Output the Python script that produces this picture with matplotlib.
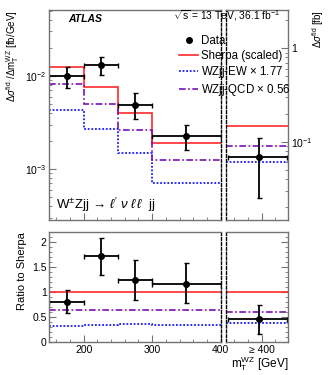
import matplotlib
matplotlib.use("Agg")
import matplotlib.pyplot as plt
from matplotlib.ticker import LogLocator, MultipleLocator, FixedLocator, NullFormatter, FixedFormatter

plt.rcParams['font.family'] = ['Liberation Sans', 'DejaVu Sans']
plt.rcParams['mathtext.fontset'] = 'custom'
plt.rcParams['mathtext.rm'] = 'Liberation Sans'
plt.rcParams['mathtext.it'] = 'Liberation Sans:italic'

# binning
edges = [150, 200, 250, 300, 400]
centers = [175, 225, 275, 350]
half_width = [25, 25, 25, 50]

# differential cross section [fb/GeV]
data = [1.0e-2, 1.31e-2, 4.9e-3, 2.24e-3]
data_up = [0.25e-2, 0.30e-2, 1.6e-3, 0.70e-3]
data_dn = [0.25e-2, 0.30e-2, 1.5e-3, 0.65e-3]
sherpa = [1.25e-2, 7.6e-3, 4.0e-3, 1.9e-3]
ew = [4.35e-3, 2.7e-3, 1.5e-3, 7.1e-4]
qcd = [8.2e-3, 4.95e-3, 2.6e-3, 1.25e-3]

# overflow bin, m_T >= 400 GeV [fb]
of_data = 0.069
of_up = 0.041
of_dn = 0.044
of_sherpa = 0.148
of_ew = 0.060
of_qcd = 0.091

# ratio to Sherpa
r_data = [0.81, 1.73, 1.25, 1.17]
r_up = [0.24, 0.35, 0.40, 0.41]
r_dn = [0.23, 0.38, 0.40, 0.39]
r_ew = [0.33, 0.34, 0.36, 0.35]
r_qcd = [0.65, 0.65, 0.64, 0.64]
r_of_data = 0.46
r_of_up = 0.28
r_of_dn = 0.30
r_of_ew = 0.39
r_of_qcd = 0.60

red = '#ff2a2a'
blue = '#1a1aff'
purple = '#7a10b8'
grey = '0.45'
tick_fs = 7.5
dotted = (0, (1, 1))
dashdot = (0, (4, 1.5, 1, 1.5))

fig = plt.figure(figsize=(3.32, 3.75), dpi=100)
ax = fig.add_axes([0.149, 0.4133, 0.5157, 0.56])
axo = fig.add_axes([0.6816, 0.4133, 0.1873, 0.56])
axr = fig.add_axes([0.149, 0.088, 0.5157, 0.2933])
axro = fig.add_axes([0.6816, 0.088, 0.1873, 0.2933])

errkw = dict(fmt='o', color='black', ms=4, lw=1.3, capsize=1.8, capthick=1.0)

# main top panel
ax.stairs(sherpa, edges, color=red, lw=1.2, baseline=None)
ax.stairs(ew, edges, color=blue, lw=1.3, ls=dotted, baseline=None)
ax.stairs(qcd, edges, color=purple, lw=1.2, ls=dashdot, baseline=None)
ax.errorbar(centers, data, yerr=[data_dn, data_up], xerr=half_width, **errkw)
ax.set_yscale('log')
ax.set_xlim(150, 400)
ax.set_ylim(2.83e-4, 0.051)

# overflow top panel
axo.stairs([of_sherpa], [0, 1], color=red, lw=1.2, baseline=None)
axo.stairs([of_ew], [0, 1], color=blue, lw=1.3, ls=dotted, baseline=None)
axo.stairs([of_qcd], [0, 1], color=purple, lw=1.2, ls=dashdot, baseline=None)
axo.errorbar([0.52], [of_data], yerr=[[of_dn], [of_up]], xerr=[[0.5], [0.46]], **errkw)
axo.set_yscale('log')
axo.set_xlim(0, 1)
axo.set_ylim(0.0145, 2.57)

# ratio panels
axr.stairs(r_ew, edges, color=blue, lw=1.3, ls=dotted, baseline=None)
axr.stairs(r_qcd, edges, color=purple, lw=1.2, ls=dashdot, baseline=None)
axr.axhline(1.0, color=red, lw=1.2)
axr.errorbar(centers, r_data, yerr=[r_dn, r_up], xerr=half_width, **errkw)
axr.set_xlim(150, 400)
axr.set_ylim(0, 2.2)

axro.stairs([r_of_ew], [0, 1], color=blue, lw=1.3, ls=dotted, baseline=None)
axro.stairs([r_of_qcd], [0, 1], color=purple, lw=1.2, ls=dashdot, baseline=None)
axro.axhline(1.0, color=red, lw=1.2)
axro.errorbar([0.52], [r_of_data], yerr=[[r_of_dn], [r_of_up]], xerr=[[0.5], [0.46]], **errkw)
axro.set_xlim(0, 1)
axro.set_ylim(0, 2.2)

for a in (ax, axo, axr, axro):
    for s in a.spines.values():
        s.set_color(grey)
        s.set_linewidth(1.0)
    a.tick_params(which='both', direction='in', colors='black', labelsize=tick_fs, pad=2)
    a.tick_params(which='major', length=5, color=grey)
    a.tick_params(which='minor', length=2.5, color=grey)

# dashed separation between main and overflow
for a in (ax, axr):
    a.spines['right'].set_color('black')
    a.spines['right'].set_linestyle((0, (2, 1.5)))
    a.tick_params(which='both', right=False)
for a in (axo, axro):
    a.spines['left'].set_color('black')
    a.spines['left'].set_linestyle((0, (2, 1.5)))
    a.tick_params(which='both', left=False, labelleft=False)

for a in (ax, axr):
    a.xaxis.set_major_locator(FixedLocator([200, 300, 400]))
    a.xaxis.set_minor_locator(MultipleLocator(20))
for a in (axo, axro):
    a.xaxis.set_major_locator(FixedLocator([0.57]))
    a.xaxis.set_minor_locator(FixedLocator([0.13, 0.35, 0.79]))
ax.tick_params(labelbottom=False)
axo.tick_params(labelbottom=False)
axr.set_xticklabels(['200', '300', '400'])
axro.xaxis.set_major_formatter(FixedFormatter(['\u2265 400']))

ax.yaxis.set_minor_locator(LogLocator(base=10, subs=range(2, 10), numticks=20))
ax.yaxis.set_minor_formatter(NullFormatter())
axo.yaxis.tick_right()
axo.tick_params(which='both', right=True, labelright=True, left=False)
axo.yaxis.set_major_locator(FixedLocator([0.1, 1]))
axo.yaxis.set_major_formatter(FixedFormatter(['10$^{-1}$', '1']))
axo.yaxis.set_minor_locator(LogLocator(base=10, subs=range(2, 10), numticks=20))
axo.yaxis.set_minor_formatter(NullFormatter())
axro.tick_params(which='both', right=True, labelright=False)
axr.yaxis.set_major_locator(FixedLocator([0, 0.5, 1, 1.5, 2]))
axr.set_yticklabels(['0', '0.5', '1', '1.5', '2'])
axr.yaxis.set_minor_locator(MultipleLocator(0.1))
axro.yaxis.set_major_locator(FixedLocator([0, 0.5, 1, 1.5, 2]))
axro.yaxis.set_minor_locator(MultipleLocator(0.1))

# labels
ax.set_ylabel(r'$\Delta\sigma^{\rm fid.}$/$\Delta$m$_{\rm T}^{\rm WZ}$ [fb/GeV]',
              loc='top', fontsize=7, labelpad=3)
axo.yaxis.set_label_position('right')
axo.set_ylabel(r'$\Delta\sigma^{\rm fid}$ [fb]', loc='top', fontsize=7, rotation=90, labelpad=-2)
axr.set_ylabel('Ratio to Sherpa', loc='top', fontsize=8)
axro.set_xlabel(r'm$_{\rm T}^{\rm WZ}$ [GeV]', loc='right', fontsize=8.5, labelpad=0)

fig.text(0.205, 0.942, 'ATLAS', fontsize=7.5, fontweight='bold', style='italic')
fig.text(0.843, 0.948, r'$\sqrt{\rm s}$ = 13 TeV, 36.1 fb$^{-1}$', fontsize=7.4, ha='right')
fig.text(0.168, 0.443, r'W$^{\pm}$Zjj$\,\rightarrow\,\ell^{\prime}\ \nu\ \ell\,\ell$  jj', fontsize=9.5)

# legend (drawn by hand as in the ROOT original)
handles = [
    plt.Line2D([], [], color='black', marker='o', ms=4, ls='none'),
    plt.Line2D([], [], color=red, lw=1.2),
    plt.Line2D([], [], color=blue, lw=1.3, ls=dotted),
    plt.Line2D([], [], color=purple, lw=1.2, ls=dashdot),
]
labels = ['Data', 'Sherpa (scaled)', r'WZjj-EW $\times$ 1.77', r'WZjj-QCD $\times$ 0.56']
fig.legend(handles, labels, loc='upper left', bbox_to_anchor=(0.54, 0.906), frameon=False,
           fontsize=8.3, handlelength=1.6, handletextpad=0.25, labelspacing=0.2,
           borderaxespad=0, borderpad=0)

fig.savefig('out.png', dpi=100)
